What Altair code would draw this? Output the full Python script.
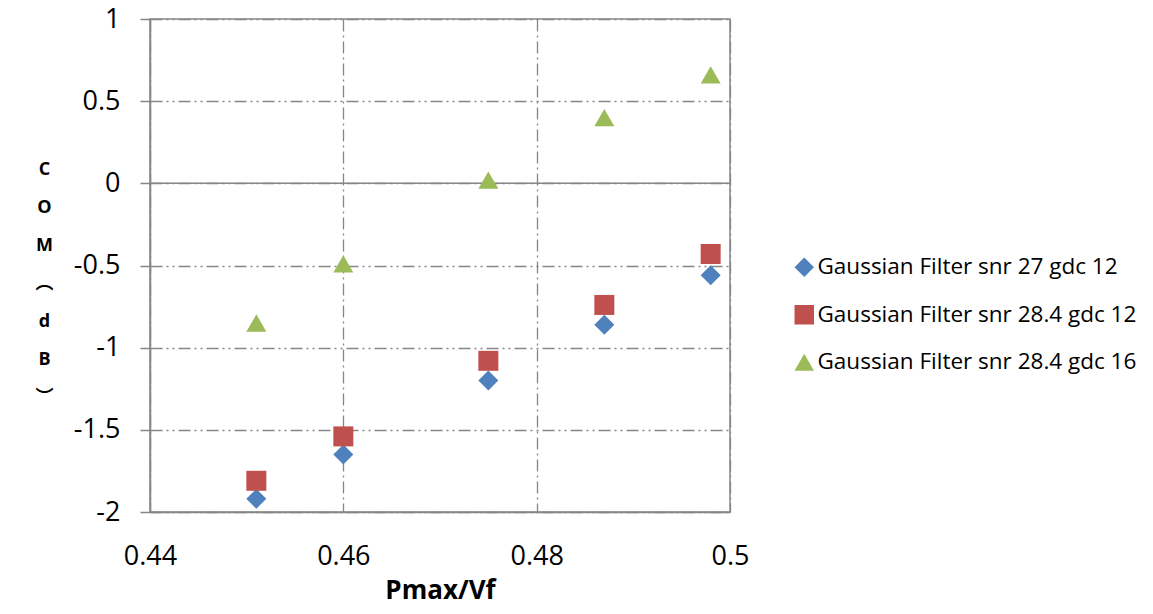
import altair as alt
import pandas as pd

x_vals = [0.451, 0.46, 0.475, 0.487, 0.498]
series_names = [
    "Gaussian Filter snr 27 gdc 12",
    "Gaussian Filter snr 28.4 gdc 12",
    "Gaussian Filter snr 28.4 gdc 16",
]
s1 = [-1.92, -1.65, -1.20, -0.86, -0.56]
s2 = [-1.81, -1.54, -1.08, -0.74, -0.43]
s3 = [-0.85, -0.49, 0.02, 0.40, 0.66]
colors = ["#4F81BD", "#C0504D", "#9BBB59"]
shapes = ["diamond", "square", "triangle-up"]
x_ticks = [0.44, 0.46, 0.48, 0.5]
y_ticks = [-2, -1.5, -1, -0.5, 0, 0.5, 1]
y_title = ["C", "O", "M", "︵", "d", "B", "︶"]

rows = []
for name, vals in zip(series_names, [s1, s2, s3]):
    for xv, yv in zip(x_vals, vals):
        rows.append({"x": xv, "y": yv, "series": name})
df = pd.DataFrame(rows)

FONT = "Open Sans"
GRID = "#868686"

xscale = alt.Scale(domain=[0.44, 0.5], nice=False, zero=False)
yscale = alt.Scale(domain=[-2, 1], nice=False, zero=False)

points = alt.Chart(df).mark_point(filled=True, size=400, opacity=1).encode(
    x=alt.X("x:Q", scale=xscale,
            axis=alt.Axis(values=x_ticks, labelExpr="datum.value + ''",
                          labelFlush=False,
                          title="Pmax/Vf", titleFont=FONT, titleFontSize=26,
                          titleFontWeight="bold", titleColor="#000000",
                          titleBaseline="alphabetic", titleY=86,
                          labelFont=FONT, labelFontSize=27, labelColor="#000000",
                          labelPadding=31, ticks=False,
                          domainColor=GRID, domainWidth=1.5,
                          grid=True, gridColor=GRID, gridWidth=1.3,
                          gridDash=[12, 4, 2, 4])),
    y=alt.Y("y:Q", scale=yscale,
            axis=alt.Axis(values=y_ticks, labelExpr="datum.value + ''",
                          labelFlush=False,
                          title=y_title,
                          titleAngle=0, titleFont="Open Sans, Noto Sans CJK JP",
                          titleFontSize=18,
                          titleFontWeight="bold", titleColor="#000000",
                          titleLineHeight=38, titleX=-106, titleY=141,
                          titleAlign="center", titleBaseline="top",
                          labelFont=FONT, labelFontSize=27, labelColor="#000000",
                          labelPadding=20, tickSize=10, tickColor=GRID, tickWidth=1.5,
                          domainColor=GRID, domainWidth=1.5,
                          grid=True, gridColor=GRID, gridWidth=1.3,
                          gridDash=[12, 4, 2, 4, 2, 4])),
    color=alt.Color("series:N", scale=alt.Scale(domain=series_names, range=colors),
                    legend=alt.Legend(title=None, orient="none", legendX=643, legendY=237,
                                      labelFont=FONT, labelFontSize=22.5, labelColor="#000000",
                                      symbolSize=380, rowPadding=24.5, labelOffset=2,
                                      labelLimit=400)),
    shape=alt.Shape("series:N", scale=alt.Scale(domain=series_names, range=shapes),
                    legend=None),
)

zero_rule = alt.Chart(pd.DataFrame({"y": [0]})).mark_rule(color=GRID, strokeWidth=1.5).encode(
    y=alt.Y("y:Q", scale=yscale)
)

chart = alt.layer(zero_rule, points).properties(
    width=580, height=493,
    autosize=alt.AutoSizeParams(type="none"),
    padding={"left": 142, "top": 11, "right": 410, "bottom": 94},
).configure_view(stroke=GRID, strokeWidth=1.5).configure_legend(symbolStrokeWidth=0)

chart.save("out.html", embed_options={"renderer": "svg", "actions": False})
